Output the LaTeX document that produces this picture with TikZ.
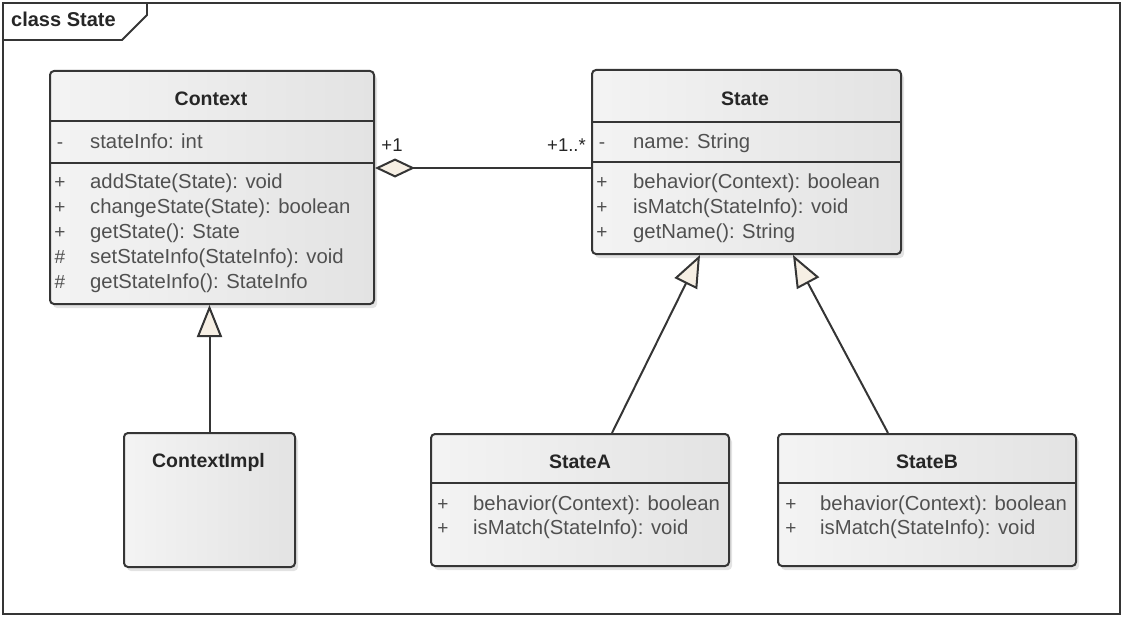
\documentclass[tikz,border=0pt]{standalone}
\usepackage{fontspec}
\setmainfont{Liberation Sans}
\usetikzlibrary{arrows.meta,shadows,calc}

\definecolor{boxline}{HTML}{353535}
\definecolor{titletext}{HTML}{262626}
\definecolor{membertext}{HTML}{505050}
\definecolor{tipfill}{HTML}{F6EFE4}

\tikzset{
  classbox/.style={draw=boxline, line width=2pt, rounded corners=4pt,
    left color=gray!9, middle color=white, right color=gray!22,
    drop shadow={shadow xshift=3pt, shadow yshift=-4pt, opacity=0.22, fill=gray},
    inner sep=0pt, anchor=north west},
  sepline/.style={draw=boxline, line width=2pt},
  classtitle/.style={anchor=base, inner sep=0pt, text=titletext,
    font=\bfseries\fontsize{19.5}{19.5}\selectfont},
  member/.style={anchor=base west, inner sep=0pt, text=membertext,
    font=\fontsize{20.3}{20.3}\selectfont},
  vis/.style={anchor=base, inner sep=0pt, text=membertext,
    font=\fontsize{19}{19}\selectfont},
  mult/.style={anchor=base, inner sep=0pt, text=titletext,
    font=\fontsize{18.5}{18.5}\selectfont},
  link/.style={draw=boxline, line width=2pt},
  generalization/.style={link, -{Triangle[length=32pt, width=25pt, fill=tipfill]}},
  aggregation/.style={link, {Diamond[length=40pt, width=19pt, fill=tipfill]}-},
}

\begin{document}
\begin{tikzpicture}[x=1pt, y=1pt]
  \useasboundingbox (0,0) rectangle (1122,-618);

  % diagram frame with its name tab
  \draw[draw=boxline, line width=2.2pt] (3,-3) rectangle (1120,-614);
  \draw[draw=boxline, line width=1.8pt] (3,-40) -- (122,-40) -- (147,-15) -- (147,-3);
  \node[anchor=base west, inner sep=0pt, text=titletext,
        font=\bfseries\fontsize{20}{20}\selectfont] (frametitle) at (11,-27) {class State};

  % ---- Context ----
  \node[classbox, minimum width=324pt, minimum height=233pt] (ctx) at (49,-70) {};
  \draw[sepline] (ctx.west |- 0,-121) -- (ctx.east |- 0,-121);
  \draw[sepline] (ctx.west |- 0,-163) -- (ctx.east |- 0,-163);
  \node[classtitle] (ctxname) at (211,-106) {Context};
  \node[vis] (ctxv0) at (60,-148) {-};
  \node[member] (ctxa0) at (90,-148) {stateInfo: int};
  \foreach \i/\v/\m in {1/+/{addState(State): void},
                        2/+/{changeState(State): boolean},
                        3/+/{getState(): State},
                        4/\#/{setStateInfo(StateInfo): void},
                        5/\#/{getStateInfo(): StateInfo}} {
    \node[vis] (ctxv\i) at (60,-163-25*\i) {\v};
    \node[member] (ctxm\i) at (90,-163-25*\i) {\m};
  }

  % ---- State ----
  \node[classbox, minimum width=309pt, minimum height=184pt] (st) at (591,-69) {};
  \draw[sepline] (st.west |- 0,-122) -- (st.east |- 0,-122);
  \draw[sepline] (st.west |- 0,-162) -- (st.east |- 0,-162);
  \node[classtitle] (stname) at (745,-105) {State};
  \node[vis] (stv0) at (602,-148) {-};
  \node[member] (sta0) at (633,-148) {name: String};
  \foreach \i/\m in {1/{behavior(Context): boolean},
                     2/{isMatch(StateInfo): void},
                     3/{getName(): String}} {
    \node[vis] (stv\i) at (602,-163-25*\i) {+};
    \node[member] (stm\i) at (633,-163-25*\i) {\m};
  }

  % ---- ContextImpl ----
  \node[classbox, minimum width=171pt, minimum height=134pt] (ctximpl) at (123,-432) {};
  \node[classtitle] (ctximplname) at (208.5,-467) {ContextImpl};

  % ---- StateA ----
  \node[classbox, minimum width=298pt, minimum height=132pt] (sta) at (430,-433) {};
  \draw[sepline] (sta.west |- 0,-483) -- (sta.east |- 0,-483);
  \node[classtitle] (staname) at (580,-468) {StateA};
  \foreach \i/\m in {1/{behavior(Context): boolean}, 2/{isMatch(StateInfo): void}} {
    \node[vis] (stav\i) at (443,-486-24*\i) {+};
    \node[member] (stam\i) at (473,-486-24*\i) {\m};
  }

  % ---- StateB ----
  \node[classbox, minimum width=298pt, minimum height=132pt] (stb) at (777,-433) {};
  \draw[sepline] (stb.west |- 0,-483) -- (stb.east |- 0,-483);
  \node[classtitle] (stbname) at (927,-468) {StateB};
  \foreach \i/\m in {1/{behavior(Context): boolean}, 2/{isMatch(StateInfo): void}} {
    \node[vis] (stbv\i) at (791,-486-24*\i) {+};
    \node[member] (stbm\i) at (820,-486-24*\i) {\m};
  }

  % ---- relations ----
  \draw[aggregation] (ctx.east |- 0,-168) -- (st.west |- 0,-168);
  \node[mult] (multctx) at (392,-151) {+1};
  \node[mult, anchor=base east] (multst) at (586,-151) {+1..*};

  \draw[generalization] (ctximpl.north) -- (ctximpl.north |- ctx.south);
  \draw[generalization] ($(sta.north west)+(182,0)$) -- ($(st.south west)+(109,0)$);
  \draw[generalization] ($(stb.north west)+(111,0)$) -- ($(st.south west)+(202,0)$);
\end{tikzpicture}
\end{document}
